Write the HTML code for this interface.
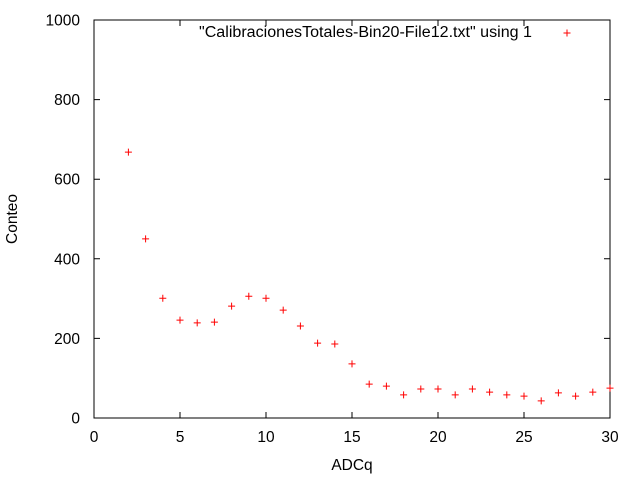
<!DOCTYPE html>
<html><head><meta charset="utf-8"><style>
html,body{margin:0;padding:0;background:#fff;}
svg{display:block;font-family:"Liberation Sans",sans-serif;font-size:15.5px;}
</style></head><body>
<svg id="chart" width="640" height="480">
<rect x="94" y="20" width="516" height="398" fill="none" stroke="#000" stroke-width="1"/>
<g id="axes"></g>
<g id="points"></g>
<text x="17" y="219" text-anchor="middle" transform="rotate(-90 17 219)" fill="#000">Conteo</text>
<text x="352" y="470" text-anchor="middle" fill="#000">ADCq</text>
<g>
<text x="199" y="37" textLength="333" lengthAdjust="spacingAndGlyphs" fill="#000">"CalibracionesTotales-Bin20-File12.txt" using 1</text>
<path d="M563.5 33h7M567 29.5v7" stroke="#f00" stroke-width="1"/>
</g>
</svg>
<script>
const xVals=[2,3,4,5,6,7,8,9,10,11,12,13,14,15,16,17,18,19,20,21,22,23,24,25,26,27,28,29,30];
const yVals=[668,450,301,246,239,241,281,306,301,271,231,188,186,136,85,80,58,73,73,58,73,65,58,55,43,63,55,65,75];
const xTicks=[0,5,10,15,20,25,30];
const yTicks=[0,200,400,600,800,1000];
const X0=94,X1=610,Y0=418,Y1=20;
const sx=v=>X0+(v-0)/(30-0)*(X1-X0);
const sy=v=>Y0-(v-0)/(1000-0)*(Y0-Y1);
const NS="http://www.w3.org/2000/svg";
const axes=document.getElementById('axes');
const pts=document.getElementById('points');
xTicks.forEach(t=>{
  const x=sx(t);
  const p=document.createElementNS(NS,'path');
  p.setAttribute('d',`M${x} ${Y0}v-6M${x} ${Y1}v6`);
  p.setAttribute('stroke','#000');
  
  
  axes.appendChild(p);
  const tx=document.createElementNS(NS,'text');
  tx.setAttribute('x',x);tx.setAttribute('y',442);tx.setAttribute('text-anchor','middle');
  tx.textContent=t;
  
  
  axes.appendChild(tx);
});
yTicks.forEach(t=>{
  const y=sy(t);
  const p=document.createElementNS(NS,'path');
  p.setAttribute('d',`M${X0} ${y}h6M${X1} ${y}h-6`);
  p.setAttribute('stroke','#000');
  
  
  axes.appendChild(p);
  const tx=document.createElementNS(NS,'text');
  tx.setAttribute('x',80);tx.setAttribute('y',y+5.5);tx.setAttribute('text-anchor','end');
  tx.textContent=t;
  
  
  axes.appendChild(tx);
});
xVals.forEach((v,i)=>{
  const x=sx(v),y=sy(yVals[i]);
  const p=document.createElementNS(NS,'path');
  p.setAttribute('d',`M${x-3.5} ${y}h7M${x} ${y-3.5}v7`);
  p.setAttribute('stroke','#f00');
  
  
  pts.appendChild(p);
});
</script>
</body></html>
